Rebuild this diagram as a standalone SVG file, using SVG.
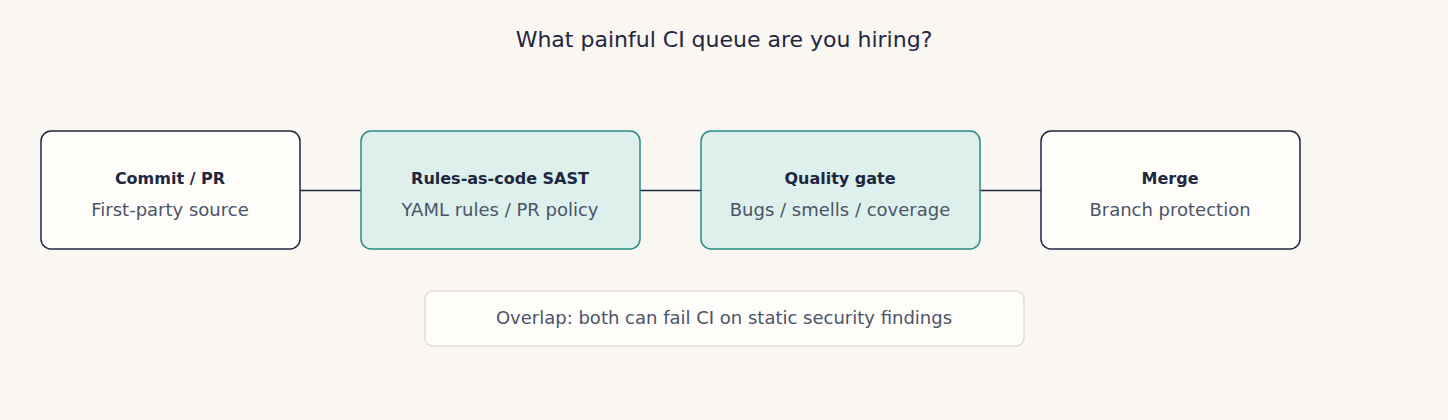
<svg xmlns="http://www.w3.org/2000/svg" width="1448" height="420" viewBox="0 0 1448 420">
<style>
.bg{fill:#faf6f1}
.node{fill:#fffdf9;stroke:#1f2640;stroke-width:1.5}
.teal{fill:#ddf0ec;stroke:#2a8a84;stroke-width:1.5}
.t{font-family:"DejaVu Sans",sans-serif;text-anchor:middle}
.title{font-size:22px;fill:#1f2640}
.h{font-size:16px;font-weight:bold;fill:#1f2640}
.s{font-size:18px;fill:#4a5468}
.edge{stroke:#1f2640;stroke-width:1.5;fill:none}
.note{fill:#fffdf9;stroke:#e6ddd0;stroke-width:1.5}
</style>
<rect class="bg" x="0" y="0" width="1448" height="420"/>
<text class="t title" x="724" y="47">What painful CI queue are you hiring?</text>
<g id="connectors">
<line class="edge" x1="300" y1="190.5" x2="361" y2="190.5"/>
<line class="edge" x1="640" y1="190.5" x2="701" y2="190.5"/>
<line class="edge" x1="980" y1="190.5" x2="1041" y2="190.5"/>
</g>
<g id="commit">
<rect class="node" x="41" y="131" width="259" height="118" rx="10"/>
<text class="t h" x="170" y="184">Commit / PR</text>
<text class="t s" x="170" y="216">First-party source</text>
</g>
<g id="sast">
<rect class="teal" x="361" y="131" width="279" height="118" rx="10"/>
<text class="t h" x="500" y="184">Rules-as-code SAST</text>
<text class="t s" x="500" y="216">YAML rules / PR policy</text>
</g>
<g id="gate">
<rect class="teal" x="701" y="131" width="279" height="118" rx="10"/>
<text class="t h" x="840" y="184">Quality gate</text>
<text class="t s" x="840" y="216">Bugs / smells / coverage</text>
</g>
<g id="merge">
<rect class="node" x="1041" y="131" width="259" height="118" rx="10"/>
<text class="t h" x="1170" y="184">Merge</text>
<text class="t s" x="1170" y="216">Branch protection</text>
</g>
<g id="overlap">
<rect class="note" x="425" y="291" width="599" height="55" rx="8"/>
<text class="t s" x="724" y="324">Overlap: both can fail CI on static security findings</text>
</g>
</svg>
